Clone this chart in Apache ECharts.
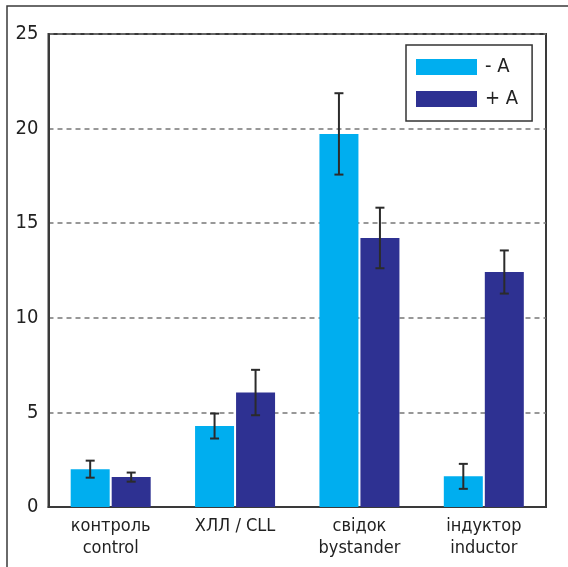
<!DOCTYPE html>
<html><head><meta charset="utf-8">
<script src="https://cdn.jsdelivr.net/npm/echarts@6/dist/echarts.min.js"></script>
<style>html,body{margin:0;padding:0;background:#fff}#c{width:568px;height:567px}</style>
</head><body><div id="c"></div>
<script>
const categories = ['контроль\ncontrol', 'ХЛЛ / CLL', 'свідок\nbystander', 'індуктор\ninductor'];
const seriesNames = ['- A', '+ A'];
const valuesMinusA = [2.0, 4.28, 19.72, 1.62];
const errMinusA = [0.45, 0.66, 2.15, 0.66];
const valuesPlusA = [1.58, 6.05, 14.22, 12.42];
const errPlusA = [0.24, 1.2, 1.6, 1.14];
const yTicks = [0, 5, 10, 15, 20, 25];

const FONT = "'Liberation Sans Narrow', 'DejaVu Sans Condensed', 'Liberation Sans', sans-serif";
const colors = ['#00aeef', '#2e3192'];
const BAR_W = 39, GAP = 2;

function errSeries(vals, errs, idx) {
  return {
    type: 'custom',
    z: 10,
    silent: true,
    data: vals.map((v, i) => [i, v - errs[i], v + errs[i]]),
    renderItem: function (params, api) {
      const c = api.value(0);
      const lo = api.coord([c, api.value(1)]);
      const hi = api.coord([c, api.value(2)]);
      const off = (idx === 0 ? -1 : 1) * (BAR_W + GAP) / 2;
      const x = lo[0] + off;
      const hw = 4.5;
      const st = { stroke: '#2b2b2b', lineWidth: 2 };
      return {
        type: 'group',
        children: [
          { type: 'line', shape: { x1: x, y1: lo[1], x2: x, y2: hi[1] }, style: st },
          { type: 'line', shape: { x1: x - hw, y1: lo[1], x2: x + hw, y2: lo[1] }, style: st },
          { type: 'line', shape: { x1: x - hw, y1: hi[1], x2: x + hw, y2: hi[1] }, style: st }
        ]
      };
    }
  };
}

const chart = echarts.init(document.getElementById('c'), null, { renderer: 'canvas' });
chart.setOption({
  animation: false,
  backgroundColor: '#fff',
  textStyle: { fontFamily: FONT },
  grid: { left: 48.5, right: 22, top: 34, bottom: 60, show: true, borderColor: '#3a3a3a', borderWidth: 2, backgroundColor: 'transparent', containLabel: false },
  legend: {
    data: seriesNames,
    orient: 'vertical',
    left: 406, top: 45,
    icon: 'rect',
    itemWidth: 61, itemHeight: 16, itemGap: 12,
    padding: [12, 14, 12, 10],
    borderColor: '#333', borderWidth: 1.5,
    backgroundColor: '#fff',
    textStyle: { fontFamily: FONT, fontSize: 20, color: '#222', padding: [0, 0, 0, 3], width: 26 }
  },
  xAxis: {
    type: 'category',
    data: categories,
    axisLine: { show: true, lineStyle: { color: '#3a3a3a', width: 2 } },
    axisTick: { show: false },
    axisLabel: { fontFamily: FONT, fontSize: 18, color: '#222', lineHeight: 22, margin: 8, interval: 0 }
  },
  yAxis: {
    type: 'value', min: 0, max: 25, interval: 5,
    axisLine: { show: true, lineStyle: { color: '#3a3a3a', width: 2 } },
    axisTick: { show: false },
    axisLabel: { fontFamily: FONT, fontSize: 20, color: '#222', margin: 10,
      formatter: v => yTicks.includes(v) ? String(v) : '' },
    splitLine: { show: true, lineStyle: { color: '#777', width: 1.5, type: [5, 4] } }
  },
  series: [
    { name: seriesNames[0], type: 'bar', data: valuesMinusA, barWidth: BAR_W, barGap: (GAP / BAR_W * 100) + '%', itemStyle: { color: colors[0] }, z: 3 },
    { name: seriesNames[1], type: 'bar', data: valuesPlusA, barWidth: BAR_W, itemStyle: { color: colors[1] }, z: 3 },
    errSeries(valuesMinusA, errMinusA, 0),
    errSeries(valuesPlusA, errPlusA, 1)
  ],
  graphic: [
    { type: 'polyline', silent: true, z: 100, shape: { points: [[7, 567], [7, 6], [568, 6]] }, style: { stroke: '#3a3a3a', lineWidth: 1.5, fill: null } }
  ]
});
</script></body></html>
